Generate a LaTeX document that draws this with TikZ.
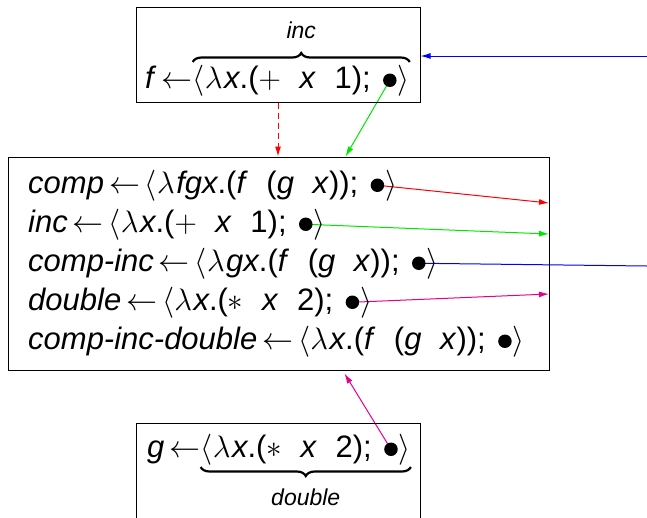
\RequirePackage{fix-cm}
\documentclass[tikz,border=0pt]{standalone}
\usepackage{fontspec}
\setmainfont{Liberation Sans}
\usetikzlibrary{arrows.meta,decorations.pathreplacing,backgrounds}
\definecolor{mymag}{RGB}{230,0,140}
\definecolor{mygreen}{RGB}{0,230,0}
\newcommand{\arr}{\hspace{5pt}$\leftarrow$\hspace{5pt}}
\newcommand{\lam}{$\lambda$\hspace{1.5pt}}
\newcommand{\gp}{\hspace{0.6em}}
\newcommand{\clos}[3]{%
  \node[txt] (#1t) at (#2) {#3};
  \node[dotnode, anchor=west] (#1b) at ([xshift=12pt, yshift=7.75pt]#1t.base east) {};
  \node[txt] (#1r) at ([xshift=0.5pt]#1b.east |- #1t.base) {$\rangle$};
}
\tikzset{
  txt/.style={inner sep=0pt, anchor=base west, font=\fontsize{31}{37}\selectfont},
  lbl/.style={inner sep=0pt, anchor=base, font=\fontsize{23}{27}\selectfont\itshape},
  dotnode/.style={circle, fill=black, inner sep=0pt, minimum size=13.5pt},
  box/.style={draw, line width=1pt, inner sep=0pt},
  conn/.style={line width=1pt, -{Latex[length=10pt,width=6pt]}},
  brc/.style={decorate, decoration={brace, amplitude=9pt}, line width=2.2pt},
}
\begin{document}
\begin{tikzpicture}[x=1pt, y=-1pt]
\useasboundingbox (0,0) rectangle (647,517);
\clip (0,0) rectangle (647,517);
% boxes
\node[box, minimum width=284pt, minimum height=95pt] (topbox) at (278,54.5) {};
\node[box, minimum width=541pt, minimum height=213pt] (midbox) at (278.5,263.5) {};
\node[box, minimum width=284pt, minimum height=107pt] (botbox) at (278,476.5) {};
% top box content
\node[txt] (fl) at (145,88) {\textit{f}\arr};
\clos{fa}{fl.base east}{$\langle$\lam\textit{x}.($+$\gp\textit{x}\gp1);}
\draw[brc] (fat.west |- 0,62) -- node[lbl, midway, yshift=24pt] (inc) {inc} (far.east |- 0,62);
% middle box content
\clos{ca}{28,193}{\textit{comp}\arr$\langle$\lam\textit{fgx}.(\textit{f}\gp(\textit{g}\gp\textit{x}));}
\clos{ia}{28,232}{\textit{inc}\arr$\langle$\lam\textit{x}.($+$\gp\textit{x}\gp1);}
\clos{cia}{28,271}{\textit{comp-inc}\arr$\langle$\lam\textit{gx}.(\textit{f}\gp(\textit{g}\gp\textit{x}));}
\clos{da}{28,310}{\textit{double}\arr$\langle$\lam\textit{x}.($\ast$\gp\textit{x}\gp2);}
\clos{cida}{28,349}{\textit{comp-inc-double}\arr$\langle$\lam\textit{x}.(\textit{f}\gp(\textit{g}\gp\textit{x}));}
% bottom box content
\node[txt] (gl) at (147,457) {\textit{g}\arr};
\clos{ga}{gl.base east}{$\langle$\lam\textit{x}.($\ast$\gp\textit{x}\gp2);}
\draw[brc] (gar.east |- 0,467) -- node[lbl, midway, yshift=-38pt] (dbl) {double} (gat.west |- 0,467);
% free ends
\coordinate (bin) at (647,56);
\coordinate (bout) at (647,266);
\coordinate (r1) at (549,203);
\coordinate (r2) at (549,234);
\coordinate (r4) at (549,294);
\begin{scope}[on background layer]
\draw[conn, blue] (bin) -- (topbox.east |- bin);
\draw[conn, red, dash pattern=on 6pt off 4pt] (topbox.south) -- (midbox.north -| topbox.south);
\draw[conn, mygreen] (fab.center) -- ([xshift=67pt]midbox.north);
\draw[conn, red] (cab.center) -- (r1);
\draw[conn, mygreen] (iab.center) -- (r2);
\draw[line width=1pt, blue] (ciab.center) -- (bout);
\draw[conn, mymag] (dab.center) -- (r4);
\draw[conn, mymag] (gab.center) -- ([xshift=66pt, yshift=-3pt]midbox.south);
\end{scope}
\end{tikzpicture}
\end{document}
